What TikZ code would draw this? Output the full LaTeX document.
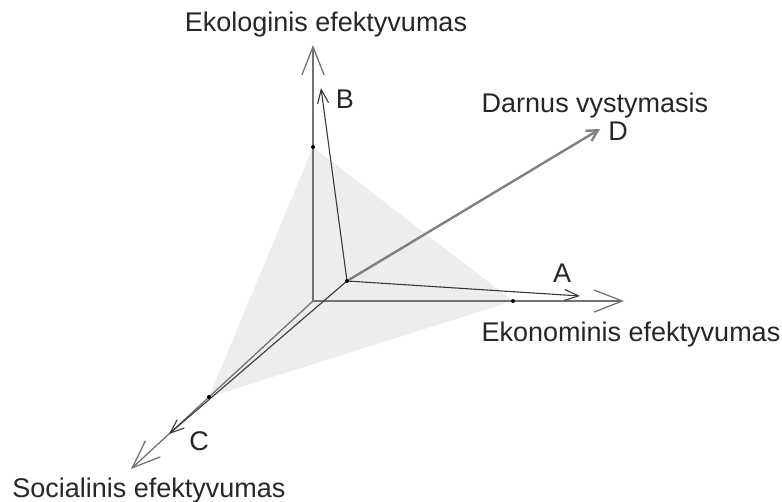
\documentclass[tikz,border=0pt]{standalone}
\usepackage{fontspec}
\setmainfont{Liberation Sans}
\usetikzlibrary{arrows.meta}

\begin{document}
\begin{tikzpicture}[x=1pt,y=-1pt,
  font=\fontsize{27}{32}\selectfont,
  axis/.style={draw=black!55,line width=1.3pt,-{Straight Barb[length=28pt,width=22pt]}},
  vec/.style={draw=black!78,line width=1.1pt,-{Straight Barb[length=14pt,width=11pt]}},
  dot/.style={circle,fill=black,inner sep=0pt,minimum size=4pt},
  lbl/.style={inner sep=0pt,anchor=base,text=black!85}]
\useasboundingbox (0,0) rectangle (782,502);
\coordinate (O) at (313,301);
\coordinate (P) at (347,281);
\coordinate (ex) at (624,301);
\coordinate (ey) at (313,45);
\coordinate (ez) at (131,469);
\coordinate (ka) at (513,301);
\coordinate (kb) at (313,147);
\coordinate (kc) at (209,397);
\coordinate (ta) at (580,296);
\coordinate (tb) at (321,88);
\coordinate (tc) at (169,434);
\coordinate (td) at (600,129);
% shaded plane
\fill[black!7] (kb) -- (ka) -- (kc) -- cycle;
% axes
\draw[axis] (O) -- (ey);
\draw[axis] (O) -- (ex);
\draw[axis] (O) -- (ez);
% vectors
\draw[vec] (P) -- (ta);
\draw[vec] (P) -- (tb);
\draw[vec] (P) -- (tc);
\draw[draw=black!50,line width=2.4pt,-{Straight Barb[length=11pt,width=12pt]}] (P) -- (td);
\node[dot] (pa) at (ka) {};
\node[dot] (pb) at (kb) {};
\node[dot] (pc) at (kc) {};
\node[dot] (pp) at (P) {};
% labels
\node[lbl] (lEko) at (326,32) {Ekologinis efektyvumas};
\node[lbl] (lEkon) at (631,342) {Ekonominis efektyvumas};
\node[lbl] (lSoc) at (149,497) {Socialinis efektyvumas};
\node[lbl] (lDar) at (595,113) {Darnus vystymasis};
\node[lbl] (lA) at (562,283) {A};
\node[lbl] (lB) at (345,109) {B};
\node[lbl] (lC) at (199,450) {C};
\node[lbl] (lD) at (618,141) {D};
\end{tikzpicture}
\end{document}
